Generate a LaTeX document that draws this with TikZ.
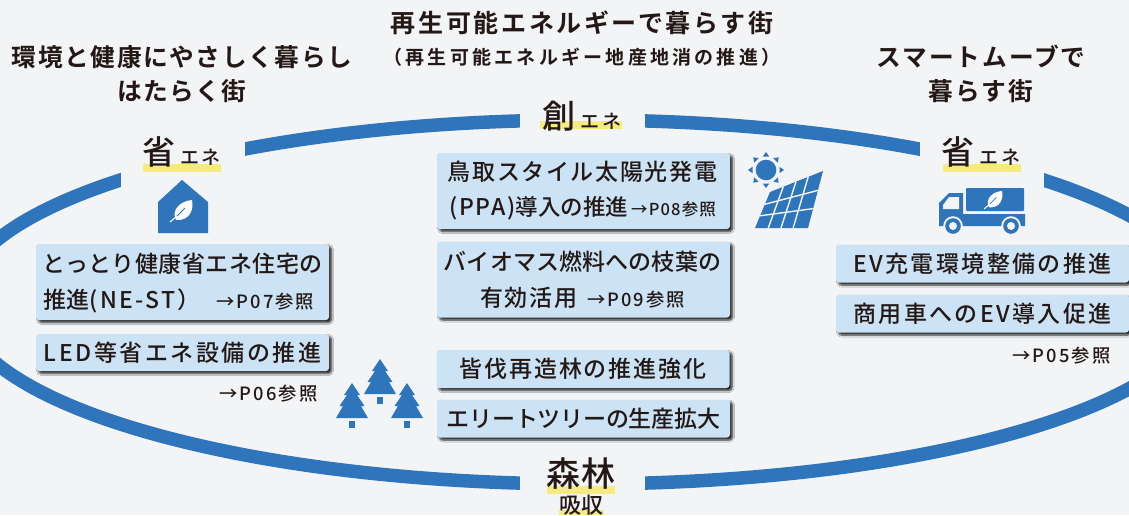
\documentclass[tikz,border=0pt]{standalone}
\usepackage{fontspec}
\usetikzlibrary{shadows,shadows.blur}
\newfontfamily\jp{Noto Sans CJK JP}
\newfontfamily\jpm{Noto Sans CJK JP Medium}
\newfontfamily\jpb{Noto Sans CJK JP Bold}
\definecolor{bgc}{HTML}{F2F4F6}
\definecolor{bluec}{HTML}{2E75BB}
\definecolor{boxc}{HTML}{CBE3F5}
\definecolor{hl}{HTML}{F5EB82}
\definecolor{ink}{HTML}{231815}
\newcommand{\sz}[2]{\fontsize{#1}{#2}\selectfont}
\newcommand{\ls}[1]{\addfontfeature{LetterSpace=#1}}
\newcommand{\refnote}[1]{{\jpm\sz{18.3}{18}\ls{11}#1}}
\newcommand{\refsmall}[1]{{\jpm\sz{16.5}{16.5}\ls{7}#1}}
\newcommand{\leaficon}[2]{%
  \begin{scope}[shift={(#1)},scale=#2]
    \fill[white] (6,-2) .. controls (1,-12) and (10,-21) .. (22,-22) .. controls (24,-13) and (20,-1) .. (6,-2) -- cycle;
    \draw[white,line width=1pt] (0,0) -- (7,-6);
    \draw[bluec,line width=.8pt] (7,-6) -- (15,-14);
  \end{scope}}
\newcommand{\treeicon}[1]{%
  \begin{scope}[shift={(#1)}]
    \fill[bluec] (0,0) -- (8,12) -- (5,12) -- (12.5,23) -- (9,23) -- (16,35) -- (-16,35) -- (-9,23) -- (-12.5,23) -- (-5,12) -- (-8,12) -- cycle;
    \fill[bluec] (-3,38) rectangle (3,45);
  \end{scope}}
\tikzset{
  boxnode/.style={fill=boxc,rounded corners=3pt,inner sep=0pt,text=ink,align=center,font=\jpm\sz{23}{35.5}\ls{8.5},
    blur shadow={shadow xshift=2.5pt,shadow yshift=-2.5pt,shadow blur radius=2pt,shadow blur steps=6,shadow opacity=85}},
  boxtext/.style={inner sep=0pt,text=ink,align=center,font=\jpm\sz{23}{35.5}\ls{7}},
  titlenode/.style={text=ink,align=center,inner sep=0pt,font=\jpb\sz{24.7}{34}\ls{6.5}},
  labelnode/.style={text=ink,inner sep=0pt,anchor=center},
  bigkanji/.style={labelnode,font=\jpm\sz{33}{33}},
  enenode/.style={labelnode,font=\jpm\sz{19}{19}\ls{15}},
  gap/.style={fill=bgc}
}
\begin{document}
\begin{tikzpicture}[x=1pt,y=-1pt]
\useasboundingbox (0,0) rectangle (1129,515);
\clip (0,0) rectangle (1129,515);
\fill[bgc] (0,0) rectangle (1129,515);
% ring
\draw[bluec,line width=13.5pt] (582,302) ellipse [x radius=622pt,y radius=182pt];
\fill[gap] (121,130) rectangle (245,205);
\fill[gap] (920,130) rectangle (1044,205);
\fill[gap] (520,100) rectangle (645,140);
\fill[gap] (520,465) rectangle (645,505);
% titles
\node[titlenode] (t1) at (182,74) {環境と健康にやさしく暮らし\\はたらく街};
\node[titlenode,font=\jpb\sz{25}{25}\ls{10.5}] (t2) at (582,23) {再生可能エネルギーで暮らす街};
\node[titlenode,font=\jpb\sz{19}{19}\ls{17}] (t3) at (582,57) {（再生可能エネルギー地産地消の推進）};
\node[titlenode,font=\jpb\sz{24.7}{34}\ls{8}] (t4) at (981,74) {スマートムーブで\\暮らす街};
% highlights
\fill[hl] (143,164) rectangle (221,172);
\fill[hl] (540,121) rectangle (622,129);
\fill[hl] (943,164) rectangle (1021,172);
\fill[hl] (547,486) rectangle (615,494);
\fill[hl] (559,510) rectangle (604,515);
% labels
\node[bigkanji] (s1) at (159,152) {省};
\node[enenode] (e1) at (200.5,157.5) {エネ};
\node[bigkanji] (s2) at (558.5,116) {創};
\node[enenode] (e2) at (601,121) {エネ};
\node[bigkanji] (s3) at (958,152) {省};
\node[enenode] (e3) at (1000,157.5) {エネ};
\node[labelnode,font=\jpm\sz{34}{34}\ls{4}] (s4) at (581,474) {森林};
\node[labelnode,font=\jpm\sz{22}{22}] (s5) at (581,505) {吸収};
% house
\fill[bluec] (182,180) -- (208,202) -- (208,233) -- (158,233) -- (158,202) -- cycle;
\leaficon{170,222}{1}
% sun
\fill[bluec] (766,170) circle (10.3pt);
\foreach \a in {0,45,...,315}{
  \fill[bluec] ({766+18*cos(\a)},{170+18*sin(\a)}) -- ({766+13.5*cos(\a)+3.2*sin(\a)},{170+13.5*sin(\a)-3.2*cos(\a)}) -- ({766+13.5*cos(\a)-3.2*sin(\a)},{170+13.5*sin(\a)+3.2*cos(\a)}) -- cycle;
}
% panel
\fill[bluec] (770,192) -- (823,171) -- (808,228) -- (755,228) -- cycle;
\foreach \u in {.25,.49,.72}{
  \draw[bgc,line width=1.4pt] ({770+53*\u},{192-21*\u}) -- ({755+53*\u},228);
}
\foreach \v in {.34,.66}{
  \draw[bgc,line width=1.4pt] ({770-15*\v},{192+36*\v}) -- ({823-15*\v},{171+57*\v});
}
% truck
\fill[bluec,rounded corners=1pt] (966,188) rectangle (1024,211);
\fill[bluec] (939,226) -- (939,203) -- (949,193) -- (963,193) -- (963,214) -- (1025,214) -- (1025,226) -- cycle;
\fill[bgc] (943,209) -- (943,205) -- (949,197) -- (959,197) -- (959,209) -- cycle;
\foreach \c in {953,1011}{
  \fill[bgc] (\c,226) circle (9.8pt);
  \fill[bluec] (\c,226) circle (7.8pt);
  \fill[bgc] (\c,226) circle (4pt);
}
\leaficon{984,209}{.82}
% trees
\treeicon{380,359}
\treeicon{352,383}
\treeicon{407,383}
% boxes
\node[boxnode,minimum width=293pt,minimum height=76pt] (b1) at (182.5,282) {};
\node[boxtext] (b1t) at (182.5,283) {{\ls{2}とっとり健康省エネ住宅の}\\\makebox[278pt][l]{{\ls{1}推進}{\ls{10}(NE-ST）}\hspace{16pt}\refnote{→P07参照}}};
\node[boxnode,minimum width=293pt,minimum height=37pt,font=\jpm\sz{23}{37}\ls{11}] (b2) at (182.5,352.5) {LED等省エネ設備の推進};
\node[boxnode,minimum width=293pt,minimum height=76pt] (b3) at (583.5,191) {};
\node[boxtext] (b3t) at (582.5,190.5) {鳥取スタイル太陽光発電\\{\ls{8}(PPA)}{\sz{22.5}{35.5}\ls{0}導入の推進}\hspace{3pt}\refsmall{→P08参照}};
\node[boxnode,minimum width=293pt,minimum height=76pt] (b4) at (583.5,279.5) {};
\node[boxtext] (b4t) at (582.5,280) {{\ls{0.5}バイオマス燃料への枝葉の}\\{\ls{7}有効活用}\hspace{10pt}\refnote{→P09参照}};
\node[boxnode,minimum width=293pt,minimum height=38pt] (b5) at (583,369) {皆伐再造林の推進強化};
\node[boxnode,minimum width=293pt,minimum height=38pt,font=\jpm\sz{23}{37}\ls{-1}] (b6) at (583.5,418.5) {エリートツリーの生産拡大};
\node[boxnode,minimum width=293pt,minimum height=38pt,font=\jpm\sz{23}{37}\ls{10.5}] (b7) at (982.5,263.5) {EV充電環境整備の推進};
\node[boxnode,minimum width=293pt,minimum height=38pt,font=\jpm\sz{23}{37}\ls{10.5}] (b8) at (982.5,313.5) {商用車へのEV導入促進};
% references
\node[labelnode,text=ink] (r1) at (268.5,394) {\refnote{→P06参照}};
\node[labelnode,text=ink] (r2) at (1061.5,356) {\refnote{→P05参照}};
\end{tikzpicture}
\end{document}
